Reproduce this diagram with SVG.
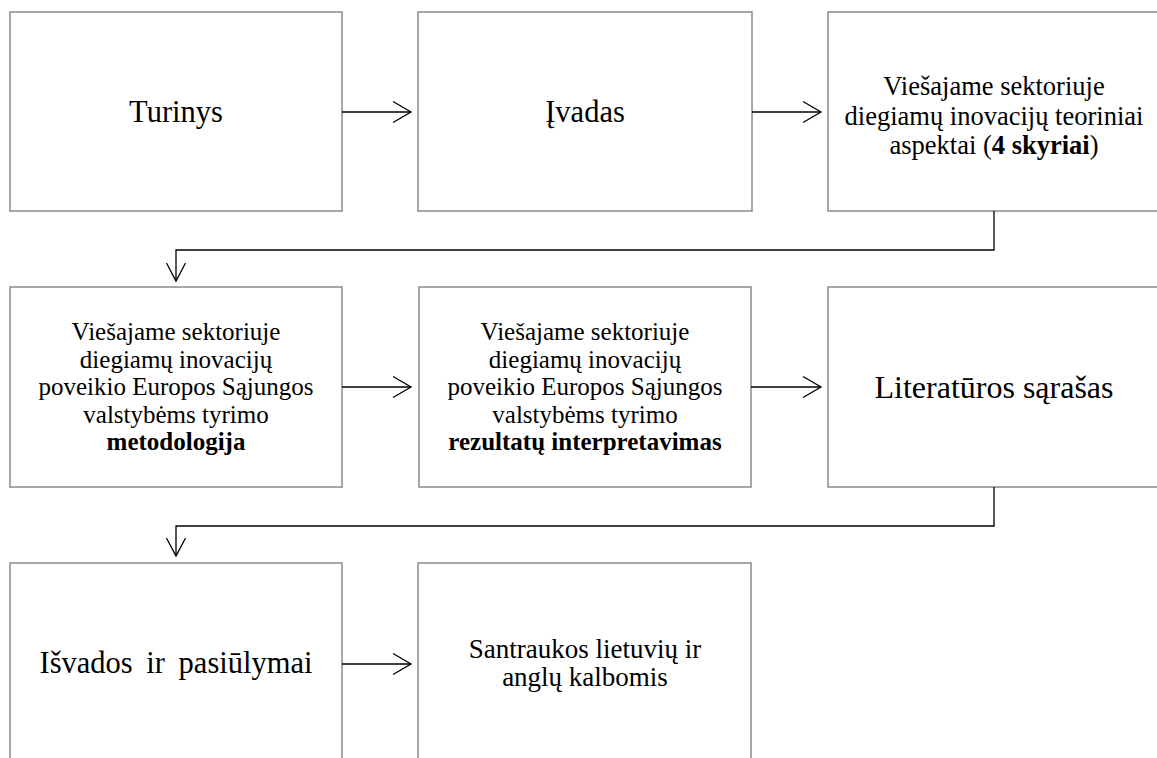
<svg xmlns="http://www.w3.org/2000/svg" width="1157" height="758" viewBox="0 0 1157 758" font-family="'Liberation Serif', 'DejaVu Serif', serif">
  <style>
    .box { fill: #ffffff; stroke: #8a8a8a; stroke-width: 1.5; }
    .conn { fill: none; stroke: #000000; stroke-width: 1.3; }
    .head { fill: none; stroke: #000000; stroke-width: 1.3; stroke-linejoin: miter; }
    text { font-family: 'Liberation Serif', 'DejaVu Serif', serif; fill: #000000; text-anchor: middle; }
    .big { font-size: 30.5px; }
    .mid { font-size: 26.5px; }
    .small { font-size: 25px; }
    .b { font-weight: bold; }
  </style>
  <rect width="1157" height="758" fill="#ffffff"/>

  <!-- row 1 -->
  <g id="turinys">
    <rect class="box" x="10" y="12" width="332" height="199"/>
    <text class="big" x="176" y="122">Turinys</text>
  </g>
  <g id="ivadas">
    <rect class="box" x="418" y="12" width="334" height="199"/>
    <text class="big" x="585" y="122">Įvadas</text>
  </g>
  <g id="teoriniai-aspektai">
    <rect class="box" x="828" y="12" width="334" height="199"/>
    <text class="mid" x="994" y="95">Viešajame sektoriuje</text>
    <text class="mid" x="994" y="124.5">diegiamų inovacijų teoriniai</text>
    <text class="mid" x="994" y="154">aspektai (<tspan class="b">4 skyriai</tspan>)</text>
  </g>

  <!-- row 2 -->
  <g id="metodologija">
    <rect class="box" x="10" y="287" width="332" height="200"/>
    <text class="small" x="176" y="340">Viešajame sektoriuje</text>
    <text class="small" x="176" y="367.5">diegiamų inovacijų</text>
    <text class="small" x="176" y="395">poveikio Europos Sąjungos</text>
    <text class="small" x="176" y="422.5">valstybėms tyrimo</text>
    <text class="small b" x="176" y="450">metodologija</text>
  </g>
  <g id="rezultatai">
    <rect class="box" x="419" y="287" width="332" height="200"/>
    <text class="small" x="585" y="340">Viešajame sektoriuje</text>
    <text class="small" x="585" y="367.5">diegiamų inovacijų</text>
    <text class="small" x="585" y="395">poveikio Europos Sąjungos</text>
    <text class="small" x="585" y="422.5">valstybėms tyrimo</text>
    <text class="small b" x="585" y="450">rezultatų interpretavimas</text>
  </g>
  <g id="literatura">
    <rect class="box" x="828" y="287" width="334" height="200"/>
    <text class="big" x="994" y="398" style="font-size:32px">Literatūros sąrašas</text>
  </g>

  <!-- row 3 -->
  <g id="isvados">
    <rect class="box" x="10" y="563" width="332" height="202"/>
    <text class="big" x="176" y="673" word-spacing="6">Išvados ir pasiūlymai</text>
  </g>
  <g id="santraukos">
    <rect class="box" x="418" y="563" width="333" height="202"/>
    <text class="small" x="585" y="658" style="font-size:27px">Santraukos lietuvių ir</text>
    <text class="small" x="585" y="686" style="font-size:27px">anglų kalbomis</text>
  </g>

  <!-- connectors -->
  <g id="connectors">
    <!-- row 1 -->
    <line class="conn" x1="342" y1="112" x2="411" y2="112"/>
    <polyline class="head" points="393,101.5 411,112 393,122.5"/>
    <line class="conn" x1="752" y1="112" x2="821" y2="112"/>
    <polyline class="head" points="803,101.5 821,112 803,122.5"/>
    <!-- row 1 to row 2 -->
    <polyline class="conn" points="994,211 994,250 176,250 176,281"/>
    <polyline class="head" points="166.5,263 176,281 185.5,263"/>
    <!-- row 2 -->
    <line class="conn" x1="342" y1="387" x2="411" y2="387"/>
    <polyline class="head" points="393,376.5 411,387 393,397.5"/>
    <line class="conn" x1="751" y1="387" x2="821" y2="387"/>
    <polyline class="head" points="803,376.5 821,387 803,397.5"/>
    <!-- row 2 to row 3 -->
    <polyline class="conn" points="994,487 994,526 176,526 176,556"/>
    <polyline class="head" points="166.5,538 176,556 185.5,538"/>
    <!-- row 3 -->
    <line class="conn" x1="342" y1="664" x2="411" y2="664"/>
    <polyline class="head" points="393,653.5 411,664 393,674.5"/>
  </g>
</svg>
